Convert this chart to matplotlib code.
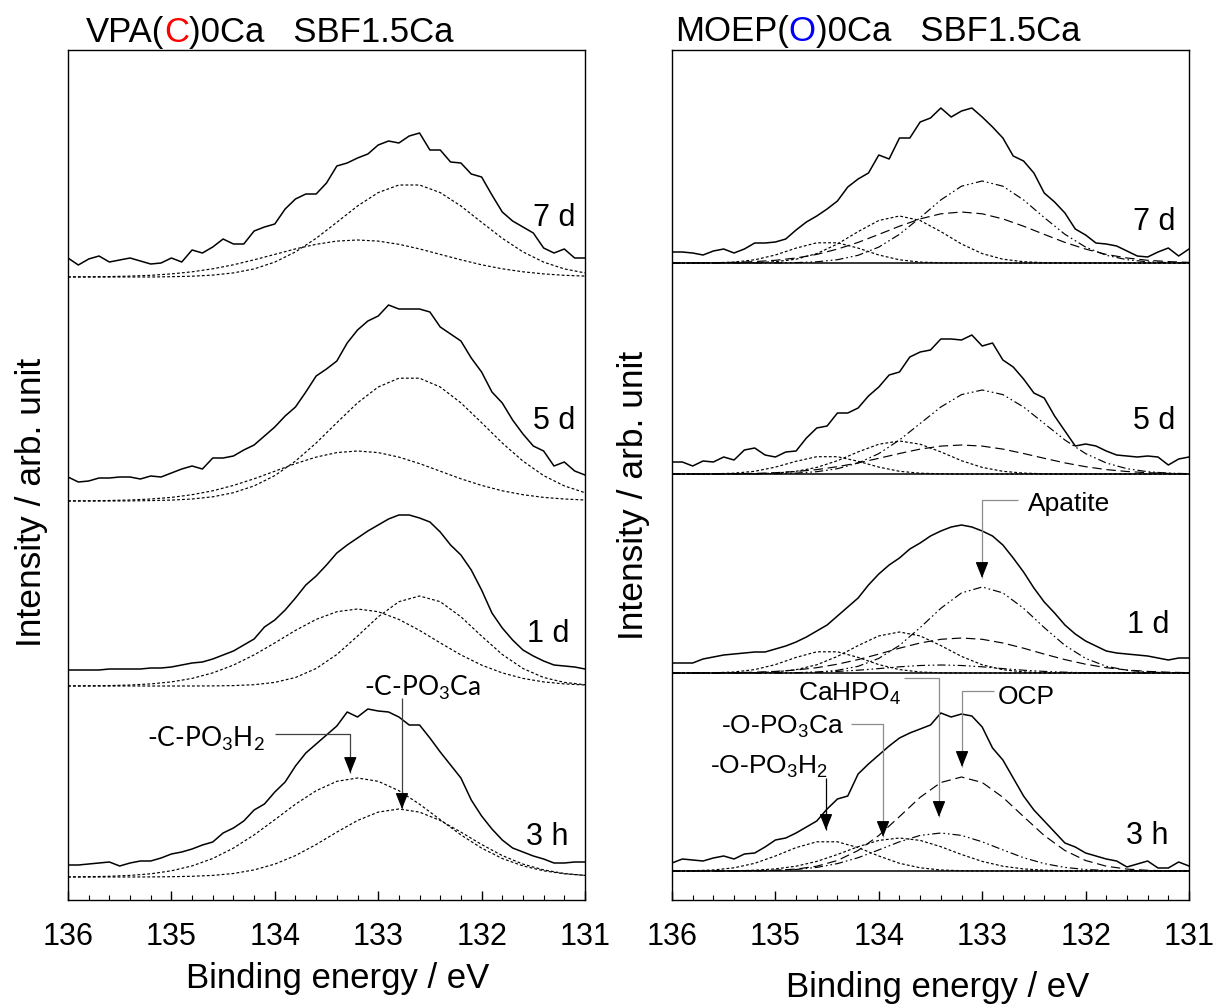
import numpy as np
import matplotlib
matplotlib.use("Agg")
import matplotlib.pyplot as plt
from matplotlib.ticker import MultipleLocator

plt.rcParams['font.family'] = ['Liberation Sans', 'DejaVu Sans']
plt.rcParams['mathtext.default'] = 'regular'

# ------------------------------------------------------------------ data
# binding-energy sampling of the measured spectra (0.1 eV) and of the fitted components (0.2 eV)
energy_raw = np.round(136.0 - 0.1 * np.arange(51), 1)
energy_fit = np.round(136.0 - 0.2 * np.arange(26), 1)

x_ticks = [136, 135, 134, 133, 132, 131]
x_tick_labels = ['136', '135', '134', '133', '132', '131']
time_labels = ['7 d', '5 d', '1 d', '3 h']

# ---- VPA(C)0Ca : measured spectra (intensity above fit baseline, arb. unit)
vpa_raw_7d = [19, 12, 18, 21, 15, 17, 19, 16, 13, 14, 19, 15, 27, 24, 30, 38, 33, 33, 46, 50, 53,
              68, 78, 83, 83, 94, 111, 114, 119, 123, 132, 136, 134, 141, 144, 127, 127, 115, 114,
              103, 100, 82, 65, 56, 50, 44, 29, 24, 28, 19, 19]
vpa_raw_5d = [24, 19, 20, 23, 23, 24, 24, 22, 25, 24, 28, 32, 35, 32, 43, 43, 45, 51, 56, 65, 74,
              85, 94, 109, 125, 132, 140, 158, 171, 180, 185, 196, 192, 192, 192, 189, 174, 167,
              160, 143, 129, 109, 98, 81, 67, 55, 50, 35, 39, 30, 26]
vpa_raw_1d = [16, 16, 16, 16, 17, 17, 17, 17, 18, 18, 19, 21, 23, 24, 27, 31, 35, 41, 47, 59, 66,
              76, 88, 101, 110, 121, 133, 141, 148, 155, 161, 167, 171, 171, 168, 164, 154, 141,
              131, 116, 96, 73, 58, 46, 36, 30, 25, 21, 20, 19, 17]
vpa_raw_3h = [12, 12, 13, 14, 15, 11, 14, 16, 16, 19, 23, 25, 28, 32, 35, 44, 49, 56, 67, 73, 85,
              95, 111, 124, 133, 142, 151, 165, 160, 168, 166, 165, 160, 152, 152, 139, 125, 112,
              99, 77, 61, 48, 37, 29, 25, 21, 18, 14, 14, 15, 15]

# ---- VPA(C)0Ca : fitted components
vpa_7d_PO3H2 = [0.1, 0.2, 0.4, 0.9, 1.7, 3.1, 5.2, 8.2, 12.2, 17.2, 22.6, 28.1, 32.7, 35.9, 37.0,
                35.9, 32.7, 28.1, 22.6, 17.2, 12.2, 8.2, 5.2, 3.1, 1.7, 0.9]
vpa_7d_PO3Ca = [0, 0, 0, 0, 0, 0.3, 0.8, 1.9, 4.1, 8.1, 14.9, 25.1, 38.7, 54.7, 71.0, 84.4, 92.0,
                92.0, 84.4, 71.0, 54.7, 38.7, 25.1, 14.9, 8.1, 4.1]
vpa_5d_PO3H2 = [0.1, 0.2, 0.5, 1.0, 2.0, 3.6, 6.3, 10.2, 15.6, 22.2, 29.8, 37.4, 43.9, 48.4, 50.0,
                48.4, 43.9, 37.4, 29.8, 22.2, 15.6, 10.2, 6.3, 3.6, 2.0, 1.0]
vpa_5d_PO3Ca = [0, 0, 0, 0.1, 0.4, 0.9, 2.0, 4.2, 8.3, 15.1, 25.4, 39.9, 58.0, 78.3, 98.1, 114.0,
                122.8, 122.8, 114.0, 98.1, 78.3, 58.0, 39.9, 25.4, 15.1, 8.3]
vpa_1d_PO3H2 = [0.1, 0.2, 0.4, 1.0, 2.1, 4.1, 7.6, 13.1, 20.9, 31.1, 43.1, 55.6, 66.6, 74.3, 77.0,
                74.3, 66.6, 55.6, 43.1, 31.1, 20.9, 13.1, 7.6, 4.1, 2.1, 1.0]
vpa_1d_PO3Ca = [0, 0, 0, 0, 0, 0, 0, 0.1, 0.4, 1.3, 3.6, 8.5, 17.5, 31.5, 49.9, 69.2, 84.3, 90.0,
                84.3, 69.2, 49.9, 31.5, 17.5, 8.5, 3.6, 1.3]
vpa_3h_PO3H2 = [0.1, 0.3, 0.7, 1.6, 3.2, 6.2, 11.1, 18.5, 28.9, 42.1, 57.3, 72.8, 86.3, 95.7, 99.0,
                95.7, 86.3, 72.8, 57.3, 42.1, 28.9, 18.5, 11.1, 6.2, 3.2, 1.6]
vpa_3h_PO3Ca = [0, 0, 0, 0, 0.1, 0.3, 0.7, 1.6, 3.5, 7.1, 12.9, 21.4, 32.5, 44.9, 56.5, 64.9, 68.0,
                64.9, 56.5, 44.9, 32.5, 21.4, 12.9, 7.1, 3.5, 1.6]

# ---- MOEP(O)0Ca : measured spectra
moep_raw_7d = [11, 11, 10, 8, 12, 14, 10, 14, 20, 20, 21, 24, 33, 41, 47, 54, 62, 76, 84, 90, 108,
               104, 125, 125, 141, 145, 155, 146, 152, 155, 146, 136, 125, 107, 102, 90, 70, 61,
               50, 34, 28, 20, 19, 17, 12, 7, 6, 11, 15, 7, 14]
moep_raw_5d = [12, 12, 8, 13, 12, 17, 14, 24, 26, 19, 17, 22, 23, 36, 46, 48, 61, 61, 66, 78, 87,
               99, 102, 117, 122, 124, 135, 135, 134, 139, 128, 131, 114, 107, 95, 81, 76, 58, 43,
               28, 30, 28, 23, 19, 18, 17, 18, 17, 9, 15, 17]
moep_raw_1d = [10, 10, 10, 14, 16, 18, 19, 20, 21, 21, 24, 27, 31, 36, 42, 48, 57, 66, 75, 88, 99,
               108, 115, 124, 130, 137, 142, 146, 148, 146, 142, 137, 128, 115, 101, 85, 71, 60,
               48, 39, 32, 27, 22, 20, 19, 18, 17, 15, 13, 15, 15]
moep_raw_3h = [8, 12, 11, 10, 13, 15, 12, 17, 18, 24, 31, 33, 38, 44, 50, 62, 72, 75, 97, 107, 116,
               125, 133, 138, 142, 146, 158, 154, 157, 155, 144, 123, 111, 93, 75, 61, 50, 39, 28,
               24, 18, 15, 12, 10, 4, 7, 10, 3, 3, 9, 5]

# ---- MOEP(O)0Ca : fitted components
moep_7d_PO3H2 = [0, 0, 0.2, 0.9, 3.2, 8.0, 14.9, 20.2, 20.2, 14.9, 8.0, 3.2, 0.9, 0.2,
                 0, 0, 0, 0, 0, 0, 0, 0, 0, 0, 0, 0]
moep_7d_PO3Ca = [0, 0, 0, 0.1, 0.3, 1.3, 3.8, 9.4, 19.0, 31.4, 42.5, 47.0, 42.5, 31.4, 19.0, 9.4,
                 3.8, 1.3, 0.3, 0.1, 0, 0, 0, 0, 0, 0]
moep_7d_OCP = [0, 0.1, 0.3, 0.6, 1.4, 2.7, 5.0, 8.6, 13.9, 20.6, 28.6, 36.8, 44.1, 49.2, 51.0,
               49.2, 44.1, 36.8, 28.6, 20.6, 13.9, 8.6, 5.0, 2.7, 1.4, 0.6]
moep_7d_apatite = [0, 0, 0, 0, 0, 0.1, 0.4, 1.2, 3.3, 7.7, 15.9, 28.7, 45.4, 63.1, 76.8, 82.0,
                   76.8, 63.1, 45.4, 28.7, 15.9, 7.7, 3.3, 1.2, 0.4, 0.1]

moep_5d_PO3H2 = [0, 0, 0.2, 0.8, 2.7, 6.9, 12.7, 17.3, 17.3, 12.7, 6.9, 2.7, 0.8, 0.2,
                 0, 0, 0, 0, 0, 0, 0, 0, 0, 0, 0, 0]
moep_5d_PO3Ca = [0, 0, 0, 0.1, 0.2, 0.9, 2.7, 6.6, 13.3, 22.1, 29.8, 33.0, 29.8, 22.1, 13.3, 6.6,
                 2.7, 0.9, 0.2, 0.1, 0, 0, 0, 0, 0, 0]
moep_5d_OCP = [0, 0, 0.1, 0.3, 0.6, 1.3, 2.5, 4.4, 7.3, 11.1, 15.7, 20.5, 24.9, 27.9, 29.0, 27.9,
               24.9, 20.5, 15.7, 11.1, 7.3, 4.4, 2.5, 1.3, 0.6, 0.3]
moep_5d_apatite = [0, 0, 0, 0, 0.1, 0.3, 0.9, 2.3, 5.3, 11.0, 20.4, 34.0, 50.5, 67.0, 79.4, 84.0,
                   79.4, 67.0, 50.5, 34.0, 20.4, 11.0, 5.3, 2.3, 0.9, 0.3]

moep_1d_PO3H2 = [0, 0, 0.2, 1.0, 3.4, 8.4, 15.6, 21.2, 21.2, 15.6, 8.4, 3.4, 1.0, 0.2,
                 0, 0, 0, 0, 0, 0, 0, 0, 0, 0, 0, 0]
moep_1d_PO3Ca = [0, 0, 0, 0.1, 0.3, 1.1, 3.3, 8.2, 16.6, 27.4, 37.1, 41.0, 37.1, 27.4, 16.6, 8.2,
                 3.3, 1.1, 0.3, 0.1, 0, 0, 0, 0, 0, 0]
moep_1d_CaHPO4 = [0, 0, 0, 0, 0, 0.1, 0.3, 0.8, 1.6, 2.8, 4.4, 6.2, 7.5, 8.0, 7.5, 6.2, 4.4, 2.8,
                  1.6, 0.8, 0.3, 0.1, 0, 0, 0, 0]
moep_1d_OCP = [0, 0.1, 0.1, 0.3, 0.8, 1.6, 3.0, 5.3, 8.8, 13.4, 18.9, 24.8, 30.0, 33.7, 35.0,
               33.7, 30.0, 24.8, 18.9, 13.4, 8.8, 5.3, 3.0, 1.6, 0.8, 0.3]
moep_1d_apatite = [0, 0, 0, 0, 0, 0.1, 0.3, 0.9, 2.7, 6.7, 14.6, 27.6, 45.4, 64.7, 80.1, 86.0,
                   80.1, 64.7, 45.4, 27.6, 14.6, 6.7, 2.7, 0.9, 0.3, 0.1]

moep_3h_PO3H2 = [0.1, 0.3, 1.0, 3.2, 7.7, 15.0, 23.4, 29.2, 29.2, 23.4, 15.0, 7.7, 3.2, 1.0, 0.3,
                 0.1, 0, 0, 0, 0, 0, 0, 0, 0, 0, 0]
moep_3h_PO3Ca = [0, 0, 0.1, 0.2, 0.8, 2.1, 4.8, 9.6, 16.5, 24.3, 30.6, 33.0, 30.6, 24.3, 16.5,
                 9.6, 4.8, 2.1, 0.8, 0.2, 0.1, 0, 0, 0, 0, 0]
moep_3h_CaHPO4 = [0, 0, 0, 0.1, 0.2, 0.6, 1.5, 3.6, 7.4, 13.3, 21.1, 29.2, 35.6, 38.0, 35.6, 29.2,
                  21.1, 13.3, 7.4, 3.6, 1.5, 0.6, 0.2, 0.1, 0, 0]
moep_3h_OCP = [0, 0, 0, 0.1, 0.2, 0.7, 1.9, 4.8, 10.5, 20.5, 35.5, 54.4, 73.7, 88.5, 94.0, 88.5,
               73.7, 54.4, 35.5, 20.5, 10.5, 4.8, 1.9, 0.7, 0.2, 0.1]

vpa_raw = [vpa_raw_7d, vpa_raw_5d, vpa_raw_1d, vpa_raw_3h]
vpa_PO3H2 = [vpa_7d_PO3H2, vpa_5d_PO3H2, vpa_1d_PO3H2, vpa_3h_PO3H2]
vpa_PO3Ca = [vpa_7d_PO3Ca, vpa_5d_PO3Ca, vpa_1d_PO3Ca, vpa_3h_PO3Ca]

moep_raw = [moep_raw_7d, moep_raw_5d, moep_raw_1d, moep_raw_3h]
moep_PO3H2 = [moep_7d_PO3H2, moep_5d_PO3H2, moep_1d_PO3H2, moep_3h_PO3H2]
moep_PO3Ca = [moep_7d_PO3Ca, moep_5d_PO3Ca, moep_1d_PO3Ca, moep_3h_PO3Ca]
moep_CaHPO4 = [None, None, moep_1d_CaHPO4, moep_3h_CaHPO4]
moep_OCP = [moep_7d_OCP, moep_5d_OCP, moep_1d_OCP, moep_3h_OCP]
moep_apatite = [moep_7d_apatite, moep_5d_apatite, moep_1d_apatite, None]

# ------------------------------------------------------------------ layout / style
W, H, DPI = 1214, 1005, 100
vpa_offsets = [623, 399, 214, 23]     # vertical stacking of the spectra
moep_offsets = [637, 426, 227, 29]

DOT = (0, (2.4, 1.8))
DASH = (0, (8, 4))
DDOT = (0, (7, 2.5, 1.4, 2.5, 1.4, 2.5))
ANNOT_FONT_L = ['Lato', 'DejaVu Sans']
ANNOT_FONT_R = ['Liberation Sans', 'DejaVu Sans']

fig = plt.figure(figsize=(W / DPI, H / DPI), dpi=DPI)


def fx(px):
    return px / W


def fy(py):
    return 1.0 - py / H


def ax_rect(x0, x1, y0, y1):
    return [fx(x0), fy(y1), (x1 - x0) / W, (y1 - y0) / H]


axL = fig.add_axes(ax_rect(68, 585, 50, 900))
axR = fig.add_axes(ax_rect(672, 1189, 50, 900))

for ax in (axL, axR):
    ax.set_xlim(136, 131)
    ax.set_ylim(0, 850)
    ax.set_yticks([])
    ax.set_xticks(x_ticks)
    ax.set_xticklabels(x_tick_labels)
    ax.xaxis.set_minor_locator(MultipleLocator(0.2))
    ax.tick_params(axis='x', which='major', direction='in', length=6.3, width=1.0,
                   labelsize=22, pad=16, top=False)
    ax.tick_params(axis='x', which='minor', direction='in', length=3.8, width=0.8, top=False)
    for sp in ax.spines.values():
        sp.set_linewidth(1.0)


def draw_panel(ax, raw, comps, offsets, baseline):
    for i, off in enumerate(offsets):
        if baseline:
            ax.axhline(off, color='k', lw=1.1, zorder=2)
        for series, ls in comps:
            vals = series[i]
            if vals is None:
                continue
            ax.plot(energy_fit, np.asarray(vals) + off, color='k', lw=0.85, ls=ls, zorder=3)
        ax.plot(energy_raw, np.asarray(raw[i]) + off, color='k', lw=1.1, zorder=4)


draw_panel(axL, vpa_raw, [(vpa_PO3H2, DOT), (vpa_PO3Ca, DOT)], vpa_offsets, False)
draw_panel(axR, moep_raw,
           [(moep_PO3H2, DOT), (moep_PO3Ca, DOT), (moep_CaHPO4, DDOT),
            (moep_OCP, DASH), (moep_apatite, DDOT)],
           moep_offsets, True)

# spectrum labels
for lab, xr, yb in zip(time_labels, [575, 575, 569, 569], [226, 429, 642, 845]):
    fig.text(fx(xr), fy(yb), lab, ha='right', va='baseline', fontsize=22)
for lab, xr, yb in zip(time_labels, [1175, 1175, 1169, 1169], [230, 429, 633, 844]):
    fig.text(fx(xr), fy(yb), lab, ha='right', va='baseline', fontsize=22)


def connector(ax, pts, tip, color):
    xs = [p[0] for p in pts] + [tip[0]]
    ys = [p[1] for p in pts] + [tip[1]]
    ax.plot(xs, ys, color=color, lw=0.9, zorder=5, solid_capstyle='butt')
    ax.annotate('', xy=tip, xytext=(tip[0], tip[1] + 14),
                arrowprops=dict(arrowstyle='-|>,head_length=0.7,head_width=0.28',
                                mutation_scale=14, color='k', lw=0.9,
                                shrinkA=0, shrinkB=0), zorder=6)


# left annotations
axL.text(134.095, 153.5, '-C-PO$_3$H$_2$', ha='right', va='baseline',
         family=ANNOT_FONT_L, fontsize=19, zorder=6)
connector(axL, [(134.0, 166), (133.27, 166)], (133.27, 127), '#404040')
axL.text(132.57, 204.5, '-C-PO$_3$Ca', ha='center', va='baseline',
         family=ANNOT_FONT_L, fontsize=19, zorder=6)
connector(axL, [(132.77, 202)], (132.77, 91), '#404040')

# right annotations
GRAY = '#8c8c8c'
axR.text(132.557, 389, 'Apatite', ha='left', va='baseline', family=ANNOT_FONT_R, fontsize=19)
connector(axR, [(132.654, 400), (133.002, 400)], (133.002, 322), GRAY)
axR.text(132.847, 196, 'OCP', ha='left', va='baseline', family=ANNOT_FONT_R, fontsize=19)
connector(axR, [(132.886, 209), (133.195, 209)], (133.195, 133), GRAY)
axR.text(133.785, 199, 'CaHPO$_4$', ha='right', va='baseline', family=ANNOT_FONT_R, fontsize=19)
connector(axR, [(133.756, 222), (133.418, 222)], (133.418, 83), GRAY)
axR.text(134.337, 166, '-O-PO$_3$Ca', ha='right', va='baseline', family=ANNOT_FONT_R, fontsize=19)
connector(axR, [(134.269, 176), (133.959, 176)], (133.959, 63), GRAY)
axR.text(134.491, 126, '-O-PO$_3$H$_2$', ha='right', va='baseline', family=ANNOT_FONT_R,
         fontsize=19)
connector(axR, [(134.511, 122)], (134.511, 70), 'k')

# axis labels
fig.text(fx(338), fy(988), 'Binding energy / eV', ha='center', va='baseline', fontsize=25)
fig.text(fx(938), fy(997), 'Binding energy / eV', ha='center', va='baseline', fontsize=25)
fig.text(fx(32), fy(502), 'Intensity / arb. unit', ha='center', va='center',
         rotation=90, fontsize=25.5)
fig.text(fx(633), fy(495), 'Intensity / arb. unit', ha='center', va='center',
         rotation=90, fontsize=25.5)

# multi-coloured titles
renderer = fig.canvas.get_renderer()


def multicolor_title(x_px, y_px, parts, size):
    x = fx(x_px)
    for s, c in parts:
        t = fig.text(x, fy(y_px), s, color=c, fontsize=size, ha='left', va='baseline')
        bb = t.get_window_extent(renderer=renderer)
        x = bb.x1 / (W)


multicolor_title(86, 42, [('VPA(', 'k'), ('C', '#ff0000'), (')0Ca   SBF1.5Ca', 'k')], 25)
multicolor_title(675, 41, [('MOEP(', 'k'), ('O', '#0000ff'), (')0Ca   SBF1.5Ca', 'k')], 25)

fig.savefig('out.png', dpi=DPI)
